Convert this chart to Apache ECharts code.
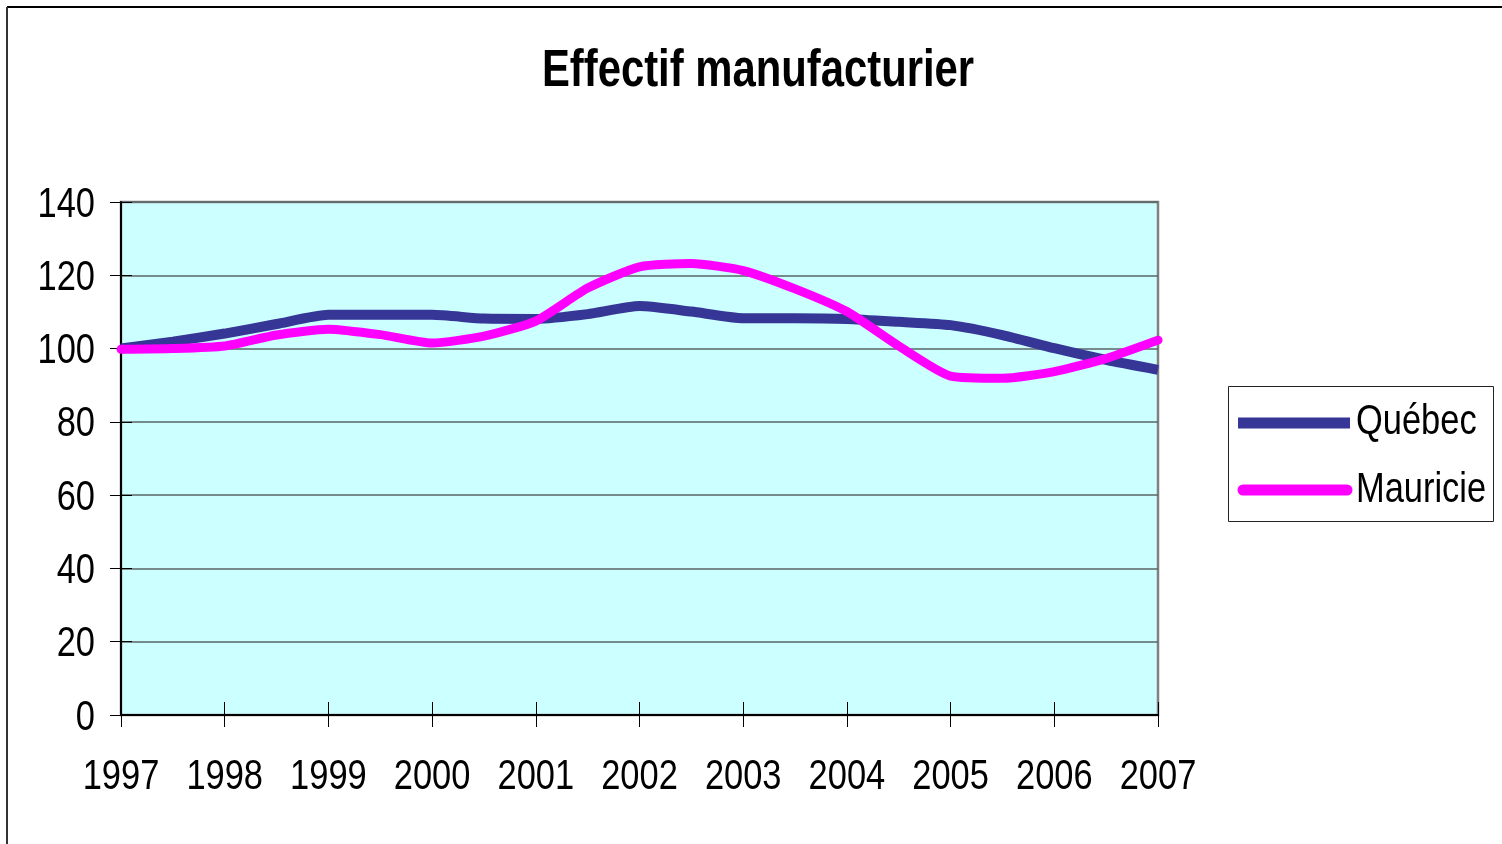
<!DOCTYPE html>
<html>
<head>
<meta charset="utf-8">
<script src="https://cdn.jsdelivr.net/npm/echarts@6/dist/echarts.min.js"></script>
<style>
html,body{margin:0;padding:0;background:#fff;}
#c{width:1502px;height:844px;}
</style>
</head>
<body>
<div id="c"></div>
<script>
const yearTicks = [1997, 1998, 1999, 2000, 2001, 2002, 2003, 2004, 2005, 2006, 2007];
const valueTicks = [0, 20, 40, 60, 80, 100, 120, 140];
// curve at half-year steps
const times = [1997, 1997.5, 1998, 1998.5, 1999, 1999.5, 2000, 2000.5, 2001, 2001.5, 2002,
               2002.5, 2003, 2003.5, 2004, 2004.5, 2005, 2005.5, 2006, 2006.5, 2007];
const quebec = [100, 101.9, 104.1, 106.7, 109.2, 109.2, 109.2, 108.2, 108.1, 109.4, 111.6,
                110.1, 108.3, 108.3, 108.1, 107.3, 106.4, 103.7, 100.1, 96.9, 94.2];
const mauricie = [99.8, 100, 100.7, 103.7, 105.3, 103.8, 101.5, 103.4, 107.5, 116.5, 122.3,
                  123.2, 121.3, 116.3, 110.1, 100.7, 92.5, 91.9, 93.7, 97.3, 102.3];
const seriesNames = ['Québec', 'Mauricie'];
const titleText = 'Effectif manufacturier';

const FONT = '"Liberation Sans", Arial, sans-serif';
const SX = 0.82; // narrow face
const chart = echarts.init(document.getElementById('c'));
const G = {left: 121, top: 202, width: 1037, height: 513};
const pairs = (xs, ys) => xs.map((x, i) => [x, ys[i]]);

chart.setOption({
  animation: false,
  backgroundColor: '#fff',
  textStyle: {fontFamily: FONT},
  grid: {left: G.left, top: G.top, width: G.width, height: G.height, show: true,
    backgroundColor: '#CCFFFF', borderColor: '#808080', borderWidth: 2.5, containLabel: false},
  xAxis: [{
    type: 'value', min: 1997, max: 2007, interval: 1,
    axisLine: {show: true, onZero: false, lineStyle: {color: '#000', width: 2}},
    axisTick: {show: true, inside: false, length: 12, lineStyle: {color: '#000', width: 1}},
    axisLabel: {show: false},
    splitLine: {show: false}
  }, {
    type: 'value', min: 1997, max: 2007, interval: 1, position: 'bottom',
    axisLine: {show: false},
    axisTick: {show: true, inside: true, length: 13, lineStyle: {color: '#000', width: 1}},
    axisLabel: {show: false}, splitLine: {show: false}
  }],
  yAxis: [{
    type: 'value', min: 0, max: 140, interval: 20,
    axisLine: {show: true, lineStyle: {color: '#000', width: 2}},
    axisTick: {show: true, inside: false, length: 11, lineStyle: {color: '#000', width: 1}},
    axisLabel: {show: false},
    splitLine: {show: true, lineStyle: {color: '#5a6666', width: 1.5}}
  }, {
    type: 'value', min: 0, max: 140, interval: 20, position: 'left',
    axisLine: {show: false},
    axisTick: {show: true, inside: true, length: 11, lineStyle: {color: '#000', width: 1}},
    axisLabel: {show: false}, splitLine: {show: false}
  }],
  series: [{
    name: seriesNames[0], type: 'line', data: pairs(times, quebec), smooth: 0.2, symbol: 'none',
    lineStyle: {color: '#363696', width: 10, cap: 'butt'}, itemStyle: {color: '#363696'}, z: 3
  }, {
    name: seriesNames[1], type: 'line', data: pairs(times, mauricie), smooth: 0.2, symbol: 'none',
    lineStyle: {color: '#FF00FF', width: 9, cap: 'round', join: 'round'}, itemStyle: {color: '#FF00FF'}, z: 4
  }]
});

function narrowText(text, x, y, size, align, vAlign, bold) {
  return {
    type: 'text', x: x, y: y, scaleX: SX, scaleY: 1, z: 10,
    style: {
      text: text, x: 0, y: 0,
      font: (bold ? 'bold ' : '') + size + 'px ' + FONT,
      fill: '#000',
      textAlign: align, align: align,
      textVerticalAlign: vAlign, verticalAlign: vAlign
    }
  };
}

const gfx = [
  {type: 'line', shape: {x1: 7, y1: 7, x2: 1502, y2: 7}, style: {stroke: '#000', lineWidth: 2}},
  {type: 'line', shape: {x1: 7, y1: 7, x2: 7, y2: 844}, style: {stroke: '#333', lineWidth: 2}},
  narrowText(titleText, 758, 46, 51, 'center', 'top', true),
  // legend
  {type: 'rect', shape: {x: 1228.5, y: 386.5, width: 265, height: 135}, style: {fill: '#fff', stroke: '#222', lineWidth: 1}},
  {type: 'line', shape: {x1: 1238, y1: 423, x2: 1350, y2: 423}, style: {stroke: '#363696', lineWidth: 11}},
  {type: 'line', shape: {x1: 1243, y1: 490, x2: 1347, y2: 490}, style: {stroke: '#FF00FF', lineWidth: 11, lineCap: 'round'}},
  narrowText(seriesNames[0], 1356, 422, 42, 'left', 'middle', false),
  narrowText(seriesNames[1], 1356, 490, 42, 'left', 'middle', false)
];
yearTicks.forEach(yr => {
  const px = chart.convertToPixel({xAxisIndex: 0}, yr);
  gfx.push(narrowText(String(yr), px, 756, 42, 'center', 'top', false));
});
valueTicks.forEach(v => {
  const py = chart.convertToPixel({yAxisIndex: 0}, v);
  gfx.push(narrowText(String(v), 95, py + 3, 42, 'right', 'middle', false));
});
chart.setOption({graphic: gfx});
</script>
</body>
</html>
